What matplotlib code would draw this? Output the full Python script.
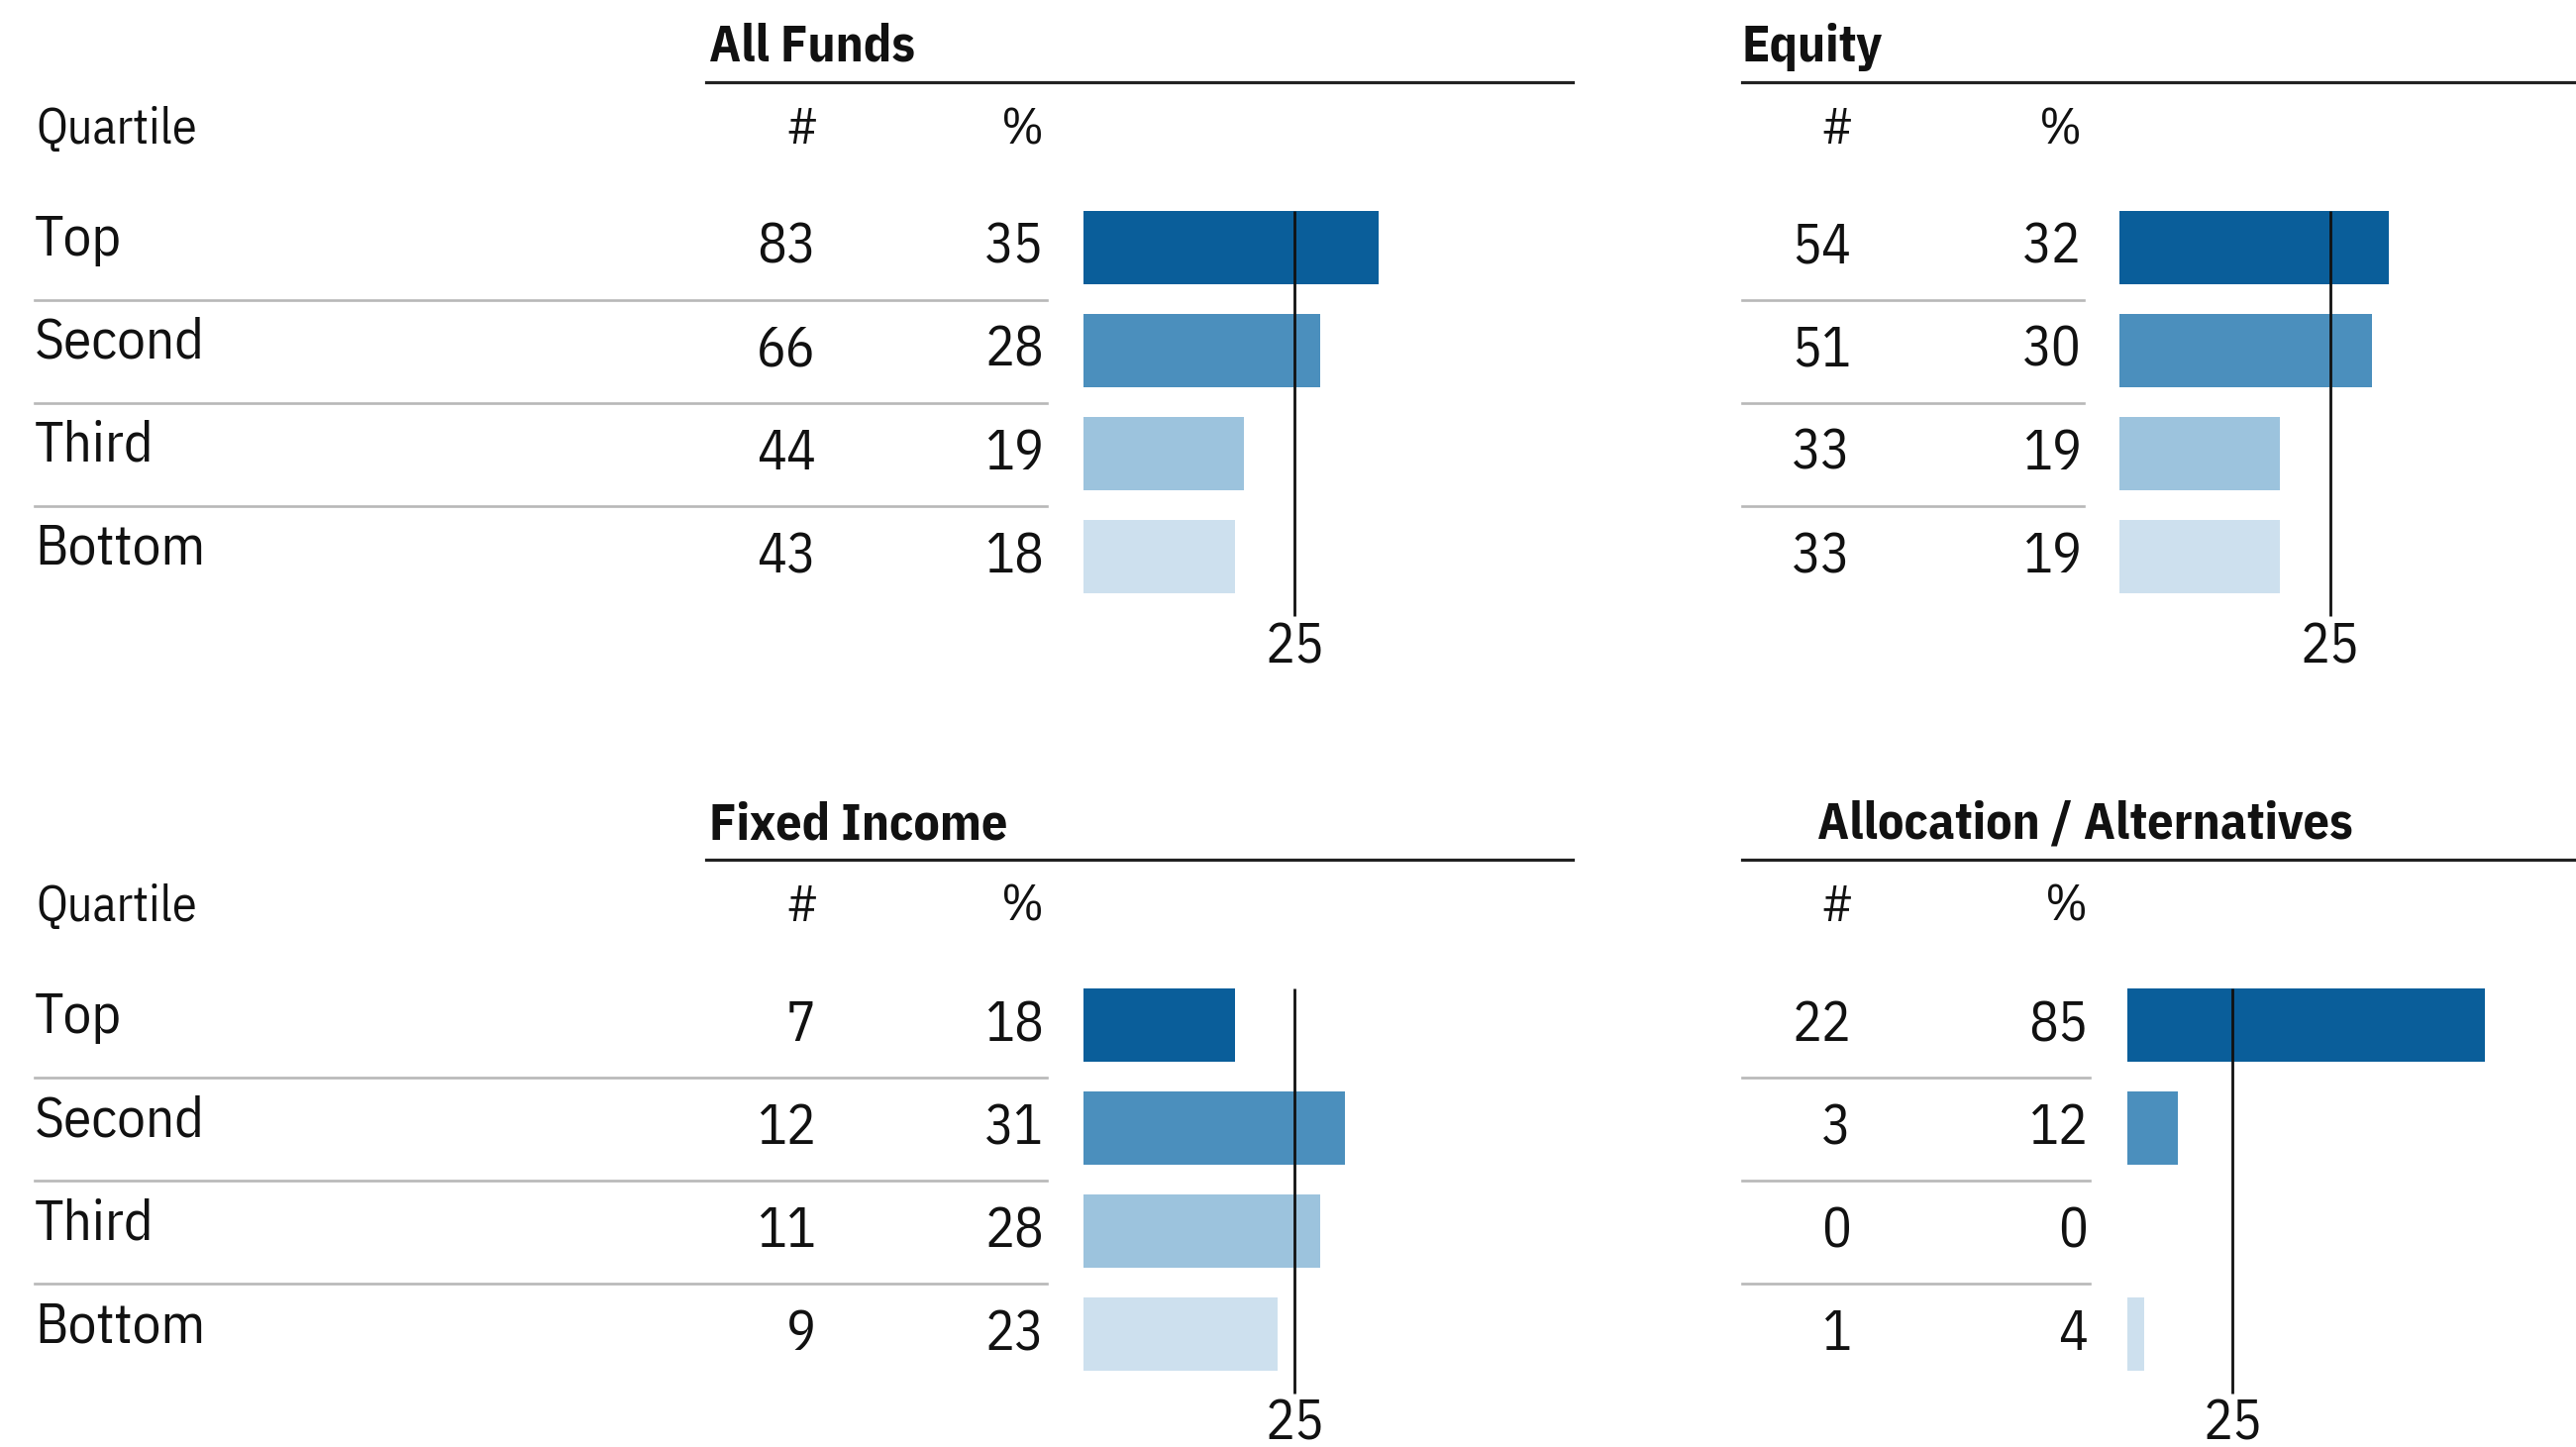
import matplotlib.pyplot as plt
from matplotlib.lines import Line2D

# data
quartiles = ["Top", "Second", "Third", "Bottom"]
bar_colors = ["#0a5e9a", "#4b8fbd", "#9cc3dd", "#cde0ee"]
benchmark = 25

all_funds_n = [83, 66, 44, 43]
all_funds_pct = [35, 28, 19, 18]
equity_n = [54, 51, 33, 33]
equity_pct = [32, 30, 19, 19]
fixed_income_n = [7, 12, 11, 9]
fixed_income_pct = [18, 31, 28, 23]
alloc_alt_n = [22, 3, 0, 1]
alloc_alt_pct = [85, 12, 0, 4]

W, H = 2601, 1461
FONT = ["IBM Plex Sans Condensed", "DejaVu Sans"]

fig = plt.figure(figsize=(W / 100, H / 100), dpi=100)


def fx(x):
    return x / W


def fy(y):
    return 1 - y / H


def hline(x0, x1, y, color, lw):
    fig.add_artist(Line2D([fx(x0), fx(x1)], [fy(y), fy(y)], color=color, lw=lw,
                          transform=fig.transFigure))


def txt(x, y, s, size, ha="left", weight="normal"):
    fig.text(fx(x), fy(y), s, fontsize=size, ha=ha, va="baseline",
             family=FONT, weight=weight, color="#111111")


def panel(title, counts, pcts, dy, title_x, rule_x0, rule_x1, n_right, pct_right,
          sep_x0, sep_x1, bar_x0, px_per_pct, show_labels):
    # title + rule
    txt(title_x, dy + 62, title, 37.5, weight="bold")
    hline(rule_x0, rule_x1, dy + 83, "#222222", 2.3)

    # column headers
    if show_labels:
        txt(36, dy + 145, "Quartile", 36)
    txt(n_right + 2, dy + 145, "#", 37, ha="right")
    txt(pct_right, dy + 145, "%", 37, ha="right")

    for i in range(4):
        if show_labels:
            txt(35, dy + 258 + 104 * i, quartiles[i], 41)
        txt(n_right, dy + 266 + 104 * i, str(counts[i]), 40, ha="right")
        txt(pct_right, dy + 266 + 104 * i, str(pcts[i]), 40, ha="right")
        if i < 3:
            hline(sep_x0, sep_x1, dy + 303 + 104 * i, "#b8b8b8", 1.9)

    # bars
    width = 460
    ax = fig.add_axes([fx(bar_x0), fy(dy + 614), width / W, 416 / H])
    ax.barh(range(4), pcts, height=0.71, color=bar_colors, zorder=2)
    ax.set_xlim(0, width / px_per_pct)
    ax.set_ylim(3.5, -0.5)
    ax.axis("off")
    ax.vlines(benchmark, -0.5 + 15 / 104, 3.5 + 8 / 104, color="#111111",
              lw=2.0, zorder=3, clip_on=False)
    ax.text(benchmark, 3.5 + 55 / 104, str(benchmark), ha="center",
            va="baseline", fontsize=40, family=FONT, color="#111111")


panel("All Funds", all_funds_n, all_funds_pct, 0, 716, 713, 1588, 824, 1054,
      35, 1057, 1094, 8.52, True)
panel("Equity", equity_n, equity_pct, 0, 1759, 1759, 2601, 1869, 2102,
      1759, 2104, 2140, 8.50, False)
panel("Fixed Income", fixed_income_n, fixed_income_pct, 785, 716, 713, 1588, 824, 1054,
      35, 1057, 1094, 8.52, True)
panel("Allocation / Alternatives", alloc_alt_n, alloc_alt_pct, 785, 1835, 1759, 2601,
      1869, 2108, 1759, 2110, 2148, 4.25, False)

fig.savefig("out.png", dpi=100, facecolor="white")
